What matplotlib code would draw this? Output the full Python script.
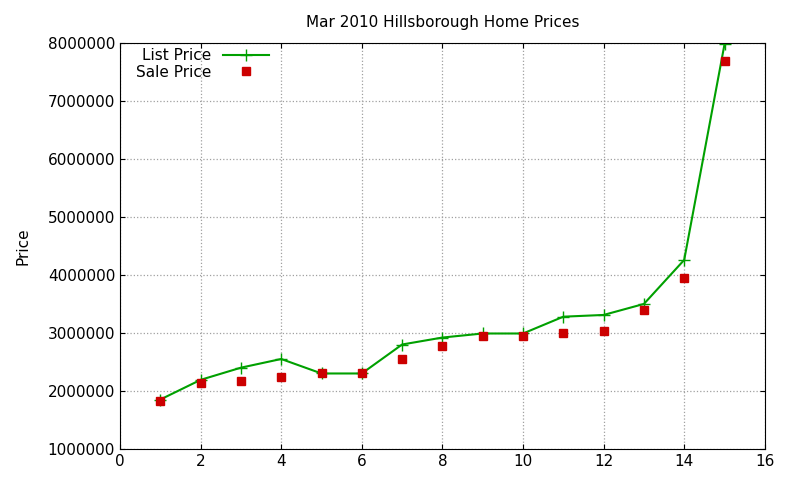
import matplotlib
matplotlib.use('Agg')
import matplotlib.pyplot as plt

# Listing index and prices
homes = list(range(1, 16))
listPrice = [1850000, 2190000, 2400000, 2550000, 2300000, 2300000, 2800000, 2920000,
             2990000, 2990000, 3280000, 3310000, 3500000, 4260000, 7980000]
salePrice = [1830000, 2140000, 2170000, 2240000, 2310000, 2310000, 2550000, 2780000,
             2950000, 2950000, 2990000, 3040000, 3400000, 3950000, 7700000]

fig = plt.figure(figsize=(8, 4.8), dpi=100)
ax = fig.add_axes([0.15, 0.065, 0.806, 0.845])

ax.plot(homes, listPrice, color='#00a000', marker='+', markersize=8, linewidth=1.5,
        label='List Price')
ax.plot(homes, salePrice, color='#cc0000', marker='s', markersize=6, linestyle='none',
        label='Sale Price')

ax.set_xlim(0, 16)
ax.set_ylim(1000000, 8000000)
ax.set_xticks(range(0, 17, 2))
ax.set_yticks(range(1000000, 8000001, 1000000))
ax.ticklabel_format(style='plain', axis='y')
ax.grid(True, color='#a0a0a0', linestyle=':', linewidth=0.9)
ax.tick_params(direction='in', top=True, right=True, labelsize=11)
ax.set_ylabel('Price', fontsize=11, labelpad=12)
ax.set_title('Mar 2010 Hillsborough Home Prices', fontsize=11, pad=12)

leg = ax.legend(loc='upper left', bbox_to_anchor=(0.01, 1.01), frameon=False, fontsize=11,
                markerfirst=False, handlelength=3, borderaxespad=0.2, labelspacing=0.1)
for t in leg.get_texts():
    t.set_ha('right')

fig.savefig('out.png')
